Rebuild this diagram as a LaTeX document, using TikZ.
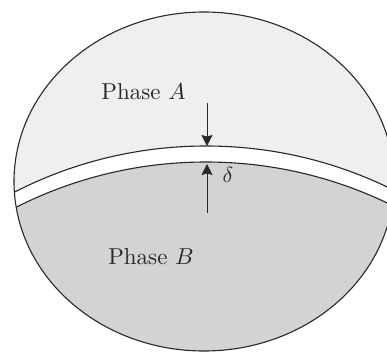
\documentclass[tikz,border=0pt]{standalone}
\usepackage{fontspec}
\usetikzlibrary{arrows.meta}
\definecolor{phaseA}{RGB}{239,239,239}
\definecolor{phaseB}{RGB}{211,211,211}
\definecolor{ink}{RGB}{40,40,40}
\tikzset{
  outline/.style={draw=ink, line width=1.1pt},
  lbl/.style={scale=2.3, text=ink, inner sep=0pt},
  pointer/.style={draw=ink, line width=0.9pt, -{Stealth[length=11pt,width=11pt,inset=1.5pt]}}
}
\begin{document}
\begin{tikzpicture}[x=1pt,y=-1pt]
\useasboundingbox (0,0) rectangle (387,353);
\begin{scope}
  \clip (0,0) rectangle (387,353);
  \begin{scope}
    \clip (204,181.5) ellipse [x radius=190, y radius=169.5];
    \fill[phaseA] (0,0) rectangle (400,360);
    \fill[white] (206,566) circle [radius=420];
    \fill[phaseB] (206,582) circle [radius=420];
    \draw[outline] (206,566) circle [radius=420];
    \draw[outline] (206,582) circle [radius=420];
  \end{scope}
  \draw[outline] (204,181.5) ellipse [x radius=190, y radius=169.5];
\end{scope}
\node[lbl] (pa) at (143.5,92) {Phase $A$};
\node[lbl] (pb) at (151,257) {Phase $B$};
\node[lbl, scale=0.95] (d) at (228,175) {$\delta$};
\coordinate (a1) at (207,103);
\coordinate (a2) at (207,146);
\coordinate (b1) at (207,213);
\coordinate (b2) at (207,164);
\draw[pointer] (a1) -- (a2);
\draw[pointer] (b1) -- (b2);
\end{tikzpicture}
\end{document}
